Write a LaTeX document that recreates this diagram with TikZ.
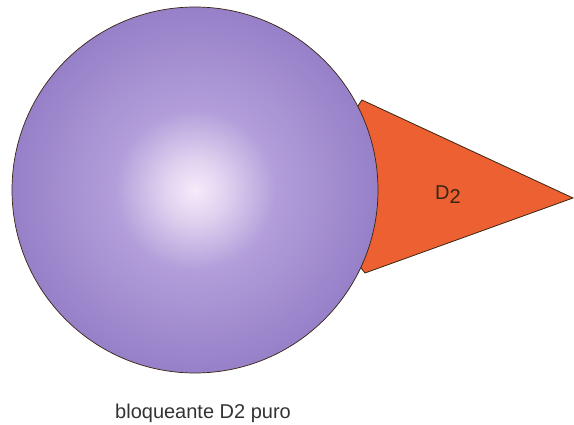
\documentclass[tikz,border=0pt]{standalone}
\usepackage{fontspec}
\setmainfont{Liberation Sans}
\definecolor{ballout}{RGB}{150,128,200}
\definecolor{ballmid}{RGB}{178,158,218}
\definecolor{ballin}{RGB}{246,234,250}
\definecolor{wedge}{RGB}{236,96,50}
\pgfdeclareradialshading{ballshade}{\pgfpoint{0bp}{0bp}}{%
  color(0bp)=(ballin); color(4bp)=(ballin!70!ballmid); color(11bp)=(ballmid);
  color(25bp)=(ballout); color(50bp)=(ballout)}
\begin{document}
\begin{tikzpicture}[x=1pt,y=-1pt,
  edge/.style={draw=black!70!brown, line width=0.8pt},
  lbl/.style={text=black!80, font=\fontsize{20}{23}\selectfont, inner sep=0pt}]
\useasboundingbox (0,0) rectangle (574,425);
\fill[white] (0,0) rectangle (574,425);
% wedge (D2 receptor)
\coordinate (wt) at (362,100);
\coordinate (wb) at (365,273);
\coordinate (tip) at (573,198);
\filldraw[edge, fill=wedge] (wt) -- (tip) -- (wb) -- (300,190) -- cycle;
% ball
\node[circle, minimum size=366pt, inner sep=0pt, edge, line width=0.7pt,
      shading=ballshade] (ball) at (195,190) {};
\node[lbl, anchor=base west, text=black!70!brown] (d2) at (435,200) {D\raisebox{-0.35ex}{2}};
\node[lbl, anchor=base west] (cap) at (115,418) {bloqueante D2 puro};
\end{tikzpicture}
\end{document}
